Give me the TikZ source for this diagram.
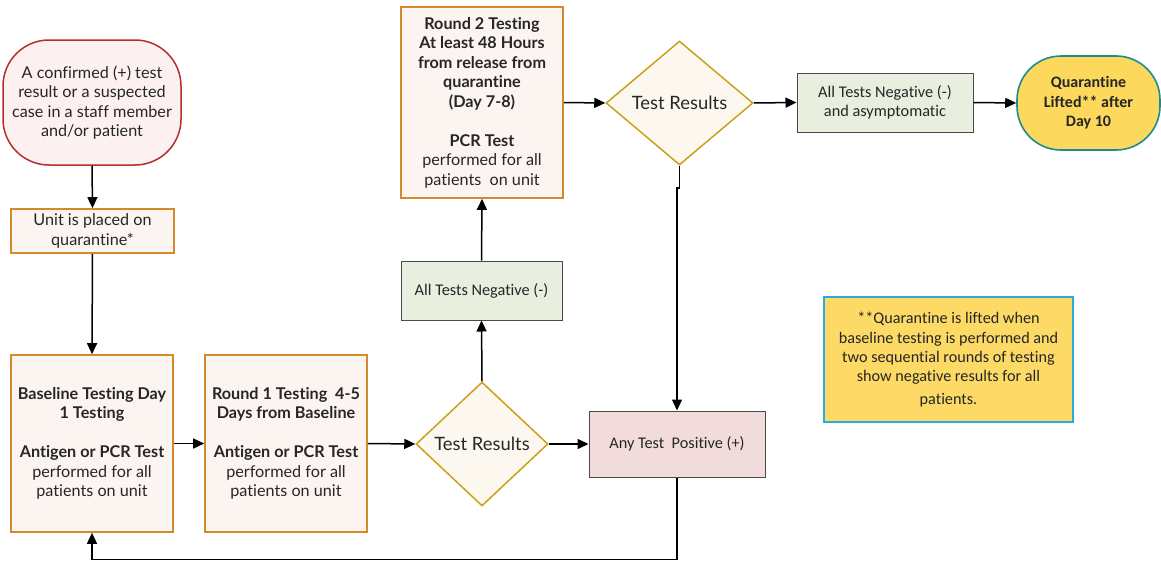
\documentclass[tikz,border=0pt]{standalone}
\usepackage{fontspec}
\setmainfont{Lato}[Ligatures={NoCommon,NoRare,NoContextual}]
\newfontfamily\califont{Carlito}[Ligatures={NoCommon,NoRare,NoContextual}]
\usetikzlibrary{shapes.geometric,arrows.meta}

\definecolor{txt}{HTML}{262626}
\definecolor{startred}{HTML}{B3302B}
\definecolor{startfill}{HTML}{FCF1F0}
\definecolor{orangeline}{HTML}{D4892A}
\definecolor{orangefill}{HTML}{FCF4F1}
\definecolor{goldline}{HTML}{C9A21A}
\definecolor{goldfill}{HTML}{FDF8EF}
\definecolor{greenfill}{HTML}{E9EFDF}
\definecolor{pinkfill}{HTML}{F2DCDB}
\definecolor{boxline}{HTML}{4A4A4A}
\definecolor{endfill}{HTML}{FCD95C}
\definecolor{endline}{HTML}{1F8B8E}
\definecolor{notefill}{HTML}{FDD966}
\definecolor{noteline}{HTML}{29AAE1}

\tikzset{
  x=1pt, y=1pt,
  base/.style={draw, align=center, inner sep=0pt, text=txt,
    font=\fontsize{16.2}{19.5}\selectfont},
  startbox/.style={base, draw=startred, fill=startfill, line width=1.5pt,
    rounded corners=46pt},
  stepbox/.style={base, draw=orangeline, fill=orangefill, line width=1.6pt},
  decision/.style={base, diamond, draw=goldline, fill=goldfill, line width=1.5pt,
    font=\fontsize{18.4}{21}\selectfont},
  outcome/.style={base, draw=boxline, line width=1pt,
    font=\califont\fontsize{16.3}{19}\selectfont},
  endbox/.style={base, draw=endline, fill=endfill, line width=1.6pt,
    rounded corners=44pt, font=\califont\bfseries\fontsize{16}{19.5}\selectfont},
  notebox/.style={base, draw=noteline, fill=notefill, line width=1.8pt,
    font=\califont\fontsize{16.2}{19.3}\selectfont},
  flow/.style={draw=black, line width=1.5pt, -{Triangle[length=11pt,width=10pt]}},
}

\begin{document}
\begin{tikzpicture}
\useasboundingbox (0,0) rectangle (1161,-562);

% process boxes
\node[startbox, minimum width=178, minimum height=125] (start) at (92,-102.5)
  {A confirmed (+) test\\result or a suspected\\case in a staff member\\and/or patient};
\node[stepbox, minimum width=163, minimum height=44] (unit) at (92.5,-231)
  {Unit is placed on\\quarantine*};
\node[stepbox, minimum width=162, minimum height=177] (baseline) at (92,-443.5)
  {\bfseries Baseline Testing Day\\\bfseries 1 Testing\\[19.5pt]
   \bfseries Antigen or PCR Test\\performed for all\\patients on unit};
\node[stepbox, minimum width=162, minimum height=177] (round1) at (286,-443.5)
  {\bfseries Round 1 Testing\ \ 4-5\\\bfseries Days from Baseline\\[19.5pt]
   \bfseries Antigen or PCR Test\\performed for all\\patients on unit};
\node[decision, minimum width=132, minimum height=124] (test1) at (482,-444)
  {Test Results};
\node[outcome, fill=pinkfill, minimum width=176, minimum height=66] (positive) at (677,-444)
  {Any Test\ \ Positive (+)};
\node[outcome, fill=greenfill, minimum width=161, minimum height=59] (negative1) at (481.5,-290.5)
  {All Tests Negative (-)};
\node[stepbox, minimum width=162, minimum height=191] (round2) at (482,-102.5)
  {\bfseries Round 2 Testing\\\bfseries At least 48 Hours\\\bfseries from release from\\
   \bfseries quarantine\\\bfseries (Day 7-8)\\[19.5pt]
   \bfseries PCR Test\\performed for all\\patients\ \ on unit};
\node[decision, minimum width=147, minimum height=124] (test2) at (679.5,-103)
  {Test Results};
\node[outcome, fill=greenfill, minimum width=176, minimum height=59] (negative2) at (885,-102.5)
  {All Tests Negative (-)\\and asymptomatic};
\node[endbox, minimum width=143, minimum height=94] (lifted) at (1088.5,-103)
  {Quarantine\\Lifted** after\\Day 10};

% footnote box
\node[notebox, minimum width=249, minimum height=125] (note) at (948.5,-359.5)
  {**Quarantine is lifted when\\baseline testing is performed and\\two sequential rounds of testing\\
   show negative results for all\\[3pt]patients.};

% connectors
\draw[flow] (start.south) -- (unit.north);
\draw[flow] (unit.south) -- (baseline.north);
\draw[flow] (baseline.east) -- (round1.west);
\draw[flow] (round1.east) -- (test1.west);
\draw[flow] (test1.east) -- (positive.west);
\draw[flow] (test1.north) -- (negative1.south);
\draw[flow] (negative1.north) -- (round2.south);
\draw[flow] (round2.east) -- (test2.west);
\draw[flow] (test2.east) -- (negative2.west);
\draw[flow] (negative2.east) -- (lifted.west);
\draw[flow] (test2.south) -- ++(0,-22) -| (positive.north);
\draw[flow] (positive.south) -- ++(0,-82) -| (baseline.south);
\end{tikzpicture}
\end{document}
